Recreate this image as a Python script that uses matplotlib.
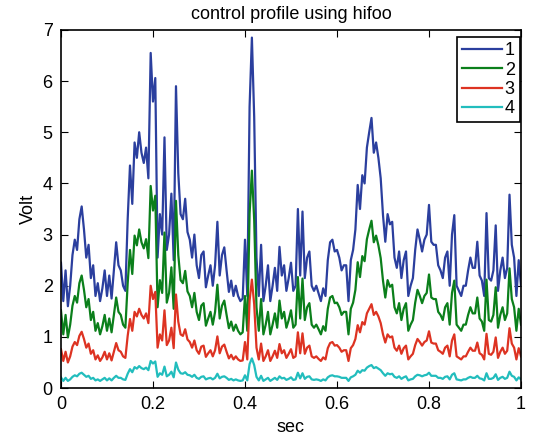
import numpy as np
import matplotlib
matplotlib.use('Agg')
import matplotlib.pyplot as plt

plt.rcParams['font.family'] = ['Liberation Sans', 'DejaVu Sans']

# time axis, 0.005 s resolution
t = np.linspace(0, 1, 201)

s1 = [2.45, 1.7, 2.3, 1.6, 2.0, 2.6, 2.9, 2.7, 3.3, 3.55, 3.1, 2.55, 2.8, 2.15, 2.4, 1.8, 2.05, 1.7, 1.95, 2.3,
      1.8, 2.2, 1.75, 2.3, 2.85, 2.4, 2.3, 2.0, 1.9, 3.3, 4.35, 3.6, 4.8, 4.5, 5.0, 4.6, 4.4, 4.7, 4.1, 6.55,
      5.6, 6.06, 2.55, 3.4, 3.0, 4.9, 2.7, 3.0, 3.8, 2.5, 5.9, 4.2, 3.4, 3.3, 3.7, 3.05, 2.9, 2.55, 3.0, 2.4,
      2.15, 2.6, 2.67, 1.97, 2.2, 2.4, 2.0, 2.4, 3.25, 2.2, 2.6, 2.75, 2.3, 1.88, 2.1, 1.8, 2.0, 1.8, 1.7, 1.75,
      2.9, 1.8, 5.5, 6.85, 5.3, 2.55, 1.8, 2.8, 1.7, 2.0, 2.4, 1.7, 2.0, 2.35, 1.9, 2.76, 2.2, 2.4, 1.9, 2.15,
      2.45, 1.9, 2.0, 3.5, 2.2, 3.45, 2.15, 2.55, 2.67, 2.0, 1.9, 2.0, 1.85, 1.7, 1.95, 1.8, 2.5, 2.85, 2.9, 2.67,
      2.7, 2.55, 2.3, 2.4, 2.4, 1.7, 2.5, 2.7, 3.1, 3.97, 3.5, 4.16, 4.0, 4.7, 5.0, 5.28, 4.6, 4.8, 4.5, 4.1,
      3.38, 2.86, 3.4, 3.2, 3.25, 2.55, 2.35, 2.67, 2.15, 2.5, 2.67, 1.8, 2.0, 2.15, 2.7, 3.1, 2.9, 2.67, 2.9, 3.0,
      3.58, 2.86, 2.8, 2.8, 2.4, 2.3, 2.15, 2.55, 2.67, 2.0, 3.0, 3.38, 2.0, 1.9, 1.8, 2.0, 2.0, 2.3, 2.55, 2.35,
      2.35, 2.86, 2.2, 2.1, 1.8, 3.42, 2.15, 2.1, 2.3, 3.18, 1.9, 2.3, 2.55, 2.15, 2.35, 3.78, 2.8, 2.55, 1.8, 2.5,
      2.0]

s2 = [1.52, 1.05, 1.43, 0.99, 1.24, 1.61, 1.80, 1.67, 2.05, 2.20, 1.92, 1.58, 1.74, 1.33, 1.49, 1.12, 1.27, 1.05, 1.21, 1.43,
      1.12, 1.36, 1.09, 1.43, 1.77, 1.49, 1.43, 1.24, 1.18, 2.05, 2.70, 2.23, 2.98, 2.79, 3.10, 2.85, 2.73, 2.91, 2.54, 3.95,
      3.47, 3.76, 1.58, 2.11, 1.86, 3.04, 1.67, 1.86, 2.36, 1.55, 3.66, 2.60, 2.11, 2.05, 2.29, 1.89, 1.80, 1.58, 1.86, 1.49,
      1.33, 1.61, 1.66, 1.22, 1.36, 1.49, 1.24, 1.49, 2.02, 1.36, 1.61, 1.71, 1.43, 1.17, 1.30, 1.12, 1.24, 1.12, 1.05, 1.09,
      1.80, 1.12, 3.41, 4.25, 3.29, 1.58, 1.12, 1.74, 1.05, 1.24, 1.49, 1.05, 1.24, 1.46, 1.18, 1.71, 1.36, 1.49, 1.18, 1.33,
      1.52, 1.18, 1.24, 2.17, 1.36, 2.14, 1.33, 1.58, 1.66, 1.24, 1.18, 1.24, 1.15, 1.05, 1.21, 1.12, 1.55, 1.77, 1.80, 1.66,
      1.67, 1.58, 1.43, 1.49, 1.49, 1.05, 1.55, 1.67, 1.92, 2.46, 2.17, 2.58, 2.48, 2.91, 3.10, 3.27, 2.85, 2.98, 2.79, 2.54,
      2.10, 1.77, 2.11, 1.98, 2.02, 1.58, 1.46, 1.66, 1.33, 1.55, 1.66, 1.12, 1.24, 1.33, 1.67, 1.92, 1.80, 1.66, 1.80, 1.86,
      2.22, 1.77, 1.74, 1.74, 1.49, 1.43, 1.33, 1.58, 1.66, 1.24, 1.86, 2.10, 1.24, 1.18, 1.12, 1.24, 1.24, 1.43, 1.58, 1.46,
      1.46, 1.77, 1.36, 1.30, 1.12, 2.12, 1.33, 1.30, 1.43, 1.97, 1.18, 1.43, 1.58, 1.33, 1.46, 2.34, 1.74, 1.58, 1.12, 1.55,
      1.24]

s3 = [0.76, 0.53, 0.71, 0.50, 0.62, 0.81, 0.90, 0.84, 1.02, 1.10, 0.96, 0.79, 0.87, 0.67, 0.74, 0.56, 0.64, 0.53, 0.60, 0.71,
      0.56, 0.68, 0.54, 0.71, 0.88, 0.74, 0.71, 0.62, 0.59, 1.02, 1.35, 1.12, 1.49, 1.40, 1.55, 1.43, 1.36, 1.46, 1.27, 2.00,
      1.74, 1.88, 0.79, 1.05, 0.93, 1.52, 0.84, 0.93, 1.18, 0.78, 1.83, 1.30, 1.05, 1.02, 1.15, 0.95, 0.90, 0.79, 0.93, 0.74,
      0.67, 0.81, 0.83, 0.61, 0.68, 0.74, 0.62, 0.74, 1.01, 0.68, 0.81, 0.85, 0.71, 0.58, 0.65, 0.56, 0.62, 0.56, 0.53, 0.54,
      0.90, 0.56, 1.71, 2.12, 1.64, 0.79, 0.56, 0.87, 0.53, 0.62, 0.74, 0.53, 0.62, 0.73, 0.59, 0.86, 0.68, 0.74, 0.59, 0.67,
      0.76, 0.59, 0.62, 1.09, 0.68, 1.07, 0.67, 0.79, 0.83, 0.62, 0.59, 0.62, 0.57, 0.53, 0.60, 0.56, 0.78, 0.88, 0.90, 0.83,
      0.84, 0.79, 0.71, 0.74, 0.74, 0.53, 0.78, 0.84, 0.96, 1.23, 1.09, 1.29, 1.24, 1.46, 1.55, 1.64, 1.43, 1.49, 1.40, 1.27,
      1.05, 0.89, 1.05, 0.99, 1.01, 0.79, 0.73, 0.83, 0.67, 0.78, 0.83, 0.56, 0.62, 0.67, 0.84, 0.96, 0.90, 0.83, 0.90, 0.93,
      1.11, 0.89, 0.87, 0.87, 0.74, 0.71, 0.67, 0.79, 0.83, 0.62, 0.93, 1.05, 0.62, 0.59, 0.56, 0.62, 0.62, 0.71, 0.79, 0.73,
      0.73, 0.89, 0.68, 0.65, 0.56, 1.06, 0.67, 0.65, 0.71, 0.99, 0.59, 0.71, 0.79, 0.67, 0.73, 1.17, 0.87, 0.79, 0.56, 0.78,
      0.62]

s4 = [0.21, 0.14, 0.20, 0.14, 0.17, 0.22, 0.25, 0.23, 0.28, 0.30, 0.26, 0.22, 0.24, 0.18, 0.20, 0.15, 0.17, 0.14, 0.17, 0.20,
      0.15, 0.19, 0.15, 0.20, 0.24, 0.20, 0.20, 0.17, 0.16, 0.28, 0.37, 0.31, 0.41, 0.38, 0.43, 0.39, 0.37, 0.40, 0.35, 0.53,
      0.48, 0.52, 0.22, 0.29, 0.26, 0.42, 0.23, 0.26, 0.32, 0.21, 0.50, 0.36, 0.29, 0.28, 0.31, 0.26, 0.25, 0.22, 0.26, 0.20,
      0.18, 0.22, 0.23, 0.17, 0.19, 0.20, 0.17, 0.20, 0.28, 0.19, 0.22, 0.23, 0.20, 0.16, 0.18, 0.15, 0.17, 0.15, 0.14, 0.15,
      0.25, 0.15, 0.47, 0.58, 0.45, 0.22, 0.15, 0.24, 0.14, 0.17, 0.20, 0.14, 0.17, 0.20, 0.16, 0.23, 0.19, 0.20, 0.16, 0.18,
      0.21, 0.16, 0.17, 0.30, 0.19, 0.29, 0.18, 0.22, 0.23, 0.17, 0.16, 0.17, 0.16, 0.14, 0.17, 0.15, 0.21, 0.24, 0.25, 0.23,
      0.23, 0.22, 0.20, 0.20, 0.20, 0.14, 0.21, 0.23, 0.26, 0.34, 0.30, 0.35, 0.34, 0.40, 0.43, 0.45, 0.39, 0.41, 0.38, 0.35,
      0.29, 0.24, 0.29, 0.27, 0.28, 0.22, 0.20, 0.23, 0.18, 0.21, 0.23, 0.15, 0.17, 0.18, 0.23, 0.26, 0.25, 0.23, 0.25, 0.26,
      0.30, 0.24, 0.24, 0.24, 0.20, 0.20, 0.18, 0.22, 0.23, 0.17, 0.26, 0.29, 0.17, 0.16, 0.15, 0.17, 0.17, 0.20, 0.22, 0.20,
      0.20, 0.24, 0.19, 0.18, 0.15, 0.29, 0.18, 0.18, 0.20, 0.27, 0.16, 0.20, 0.22, 0.18, 0.20, 0.32, 0.24, 0.22, 0.15, 0.21,
      0.17]

labels = ['1', '2', '3', '4']
colors = ['#2b3f9e', '#0b7f1b', '#dd3322', '#22bdbd']

fig = plt.figure(figsize=(5.33, 4.40), dpi=100)
ax = fig.add_axes([0.1144, 0.118, 0.8631, 0.814])
for s, lab, col in zip([s1, s2, s3, s4], labels, colors):
    ax.plot(t, s, color=col, linewidth=1.6, label=lab)

ax.set_xlim(0, 1)
ax.set_ylim(0, 7)
ax.set_xticks([0, 0.2, 0.4, 0.6, 0.8, 1])
ax.set_xticklabels(['0', '0.2', '0.4', '0.6', '0.8', '1'])
ax.set_yticks(range(8))
ax.tick_params(direction='in', top=True, right=True, labelsize=13, length=5, pad=6)
for sp in ax.spines.values():
    sp.set_linewidth(1.2)
ax.set_xlabel('sec', fontsize=13)
ax.set_ylabel('Volt', fontsize=13)
ax.set_title('control profile using hifoo', fontsize=13, pad=8)
leg = ax.legend(loc='upper right', bbox_to_anchor=(0.998, 0.98), fontsize=13,
                fancybox=False, framealpha=1, edgecolor='black',
                handlelength=2.2, handletextpad=0.15, labelspacing=0.12,
                borderpad=0.3, borderaxespad=0)
leg.get_frame().set_linewidth(1.2)

plt.savefig('out.png', dpi=100)
